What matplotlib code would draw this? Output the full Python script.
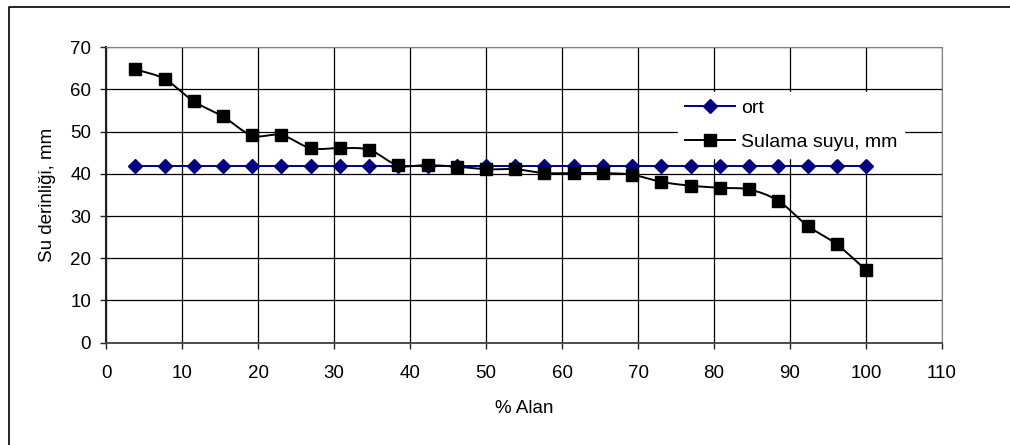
import numpy as np
import matplotlib.pyplot as plt
from matplotlib.lines import Line2D

plt.rcParams['font.family'] = ['Liberation Sans', 'DejaVu Sans']

# % area covered (26 equal slices) and measured depths
alan = np.arange(1, 27) * 100 / 26
ort = [41.8] * 26
sulama = [64.8, 62.5, 57.2, 53.6, 49.1, 49.2, 46.1, 46.1, 45.7, 42.0,
          42.1, 41.7, 41.1, 41.1, 40.2, 40.2, 40.2, 39.8, 38.1, 37.2,
          36.7, 36.3, 33.6, 27.7, 23.3, 17.2]


def smooth(x, y, n=12):
    # Catmull-Rom curve through the points, like a spreadsheet "smoothed line"
    x = np.asarray(x, float)
    y = np.asarray(y, float)
    px = np.concatenate([[2 * x[0] - x[1]], x, [2 * x[-1] - x[-2]]])
    py = np.concatenate([[2 * y[0] - y[1]], y, [2 * y[-1] - y[-2]]])
    t = np.linspace(0, 1, n, endpoint=False)[:, None]
    xs, ys = [], []
    for i in range(1, len(px) - 2):
        for p, out in ((px, xs), (py, ys)):
            p0, p1, p2, p3 = p[i - 1], p[i], p[i + 1], p[i + 2]
            seg = 0.5 * (2 * p1 + (-p0 + p2) * t + (2 * p0 - 5 * p1 + 4 * p2 - p3) * t ** 2
                         + (-p0 + 3 * p1 - 3 * p2 + p3) * t ** 3)
            out.extend(seg.ravel())
    xs.append(x[-1])
    ys.append(y[-1])
    return np.array(xs), np.array(ys)


fig = plt.figure(figsize=(10.1, 4.45), dpi=100)
ax = fig.add_axes([0.105, 0.23, 0.8277, 0.6637])

ax.plot(alan, ort, color='#000080', lw=1.4, marker='D', ms=7.5, label='ort', zorder=3)
sx, sy = smooth(alan, sulama)
ax.plot(sx, sy, color='black', lw=1.4, zorder=3)
ax.plot(alan, sulama, ls='none', marker='s', ms=8, color='black', zorder=4)
# legend handle for the square series
ax.plot([], [], color='black', lw=1.4, marker='s', ms=8, label='Sulama suyu, mm')

ax.set_xlim(0, 110)
ax.set_ylim(0, 70)
ax.set_xticks(np.arange(0, 111, 10))
ax.set_yticks(np.arange(0, 71, 10))
ax.grid(True, color='black', lw=0.9)
ax.set_axisbelow(True)
ax.tick_params(direction='out', length=4.3, width=1, labelsize=13.5, colors='#222222')
ax.tick_params(axis='x', pad=12)
ax.tick_params(axis='y', pad=6.5)
ax.tick_params(labelcolor='black')
ax.spines['top'].set_color('#808080')
ax.spines['right'].set_color('#808080')
ax.spines['bottom'].set_color('#404040')
ax.spines['bottom'].set_linewidth(1.3)
ax.spines['left'].set_color('#202020')
ax.spines['left'].set_linewidth(1.5)

ax.set_xlabel('% Alan', fontsize=13.5, labelpad=13)
ax.set_ylabel('Su derinliği, mm', fontsize=13.5, labelpad=10)

leg = ax.legend(loc='upper left', bbox_to_anchor=(0.684, 0.848), frameon=True,
                fontsize=14, handlelength=2.6, borderpad=0.35, labelspacing=0.85,
                handletextpad=0.3, borderaxespad=0, fancybox=False)
leg.get_frame().set_edgecolor('white')
leg.get_frame().set_facecolor('white')
leg.get_frame().set_alpha(1)

# edge of the surrounding frame (left and top only are inside the image)
fig.add_artist(Line2D([0.009, 0.009, 1.0], [0.0, 0.984, 0.984], transform=fig.transFigure,
                      color='black', lw=1.2))

fig.savefig('out.png', dpi=100)
